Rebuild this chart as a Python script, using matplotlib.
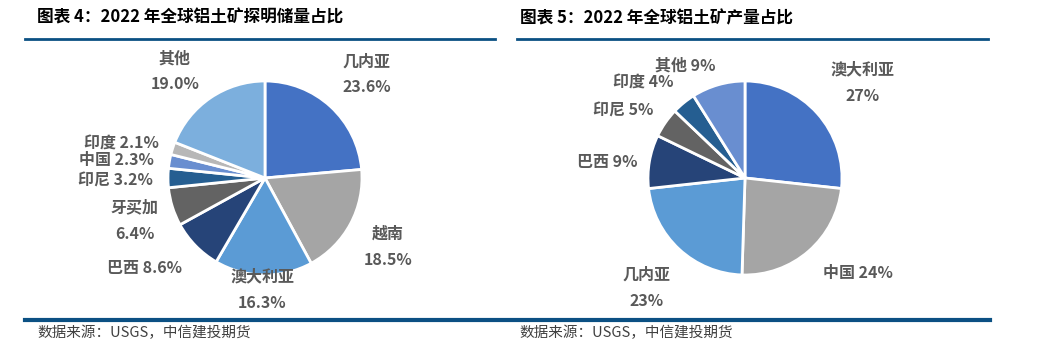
import matplotlib.pyplot as plt
from matplotlib.lines import Line2D

plt.rcParams['font.family'] = ['Noto Sans CJK SC', 'DejaVu Sans']

# 图表4：探明储量占比
reserve_names = ['几内亚', '越南', '澳大利亚', '巴西', '牙买加', '印尼', '中国', '印度', '其他']
reserve_share = [23.6, 18.5, 16.3, 8.6, 6.4, 3.2, 2.3, 2.1, 19.0]

# 图表5：产量占比
output_names = ['澳大利亚', '中国', '几内亚', '巴西', '印尼', '印度', '其他']
output_share = [27, 24, 23, 9, 5, 4, 9]

colors_left = ['#4472C4', '#A5A5A5', '#5B9BD5', '#264478', '#636363',
               '#255E91', '#698ED0', '#B7B7B7', '#7CAFDD']
colors_right = ['#4472C4', '#A5A5A5', '#5B9BD5', '#264478', '#636363',
                '#255E91', '#698ED0']

# 标签位置（以饼图半径为单位），两行标签用 split=True
left_label_pos = [(1.05, 1.07, True), (1.27, -0.71, True), (-0.03, -1.15, True),
                  (-1.24, -0.93, False), (-1.34, -0.44, True), (-1.54, -0.03, False),
                  (-1.53, 0.19, False), (-1.48, 0.36, False), (-0.93, 1.10, True)]
right_label_pos = [(1.21, 0.98, True), (1.16, -0.98, False), (-1.01, -1.13, True),
                   (-1.42, 0.16, False), (-1.26, 0.70, False), (-1.05, 0.98, False),
                   (-0.62, 1.16, False)]

W, H = 1040, 352
fig = plt.figure(figsize=(W / 100, H / 100), dpi=100)

LABEL_COLOR = '#595959'
LINE_COLOR = '#0B5083'


def pie_axes(cx, cy, r):
    return fig.add_axes([(cx - r) / W, 1 - (cy + r) / H, 2 * r / W, 2 * r / H])


def draw_pie(ax, names, vals, colors, label_pos, pct_fmt):
    ax.pie(vals, colors=colors, startangle=90, counterclock=False, radius=1,
           wedgeprops=dict(edgecolor='white', linewidth=2))
    ax.set_xlim(-1, 1)
    ax.set_ylim(-1, 1)
    for name, v, (x, y, split) in zip(names, vals, label_pos):
        pct = pct_fmt.format(v)
        if split:
            ax.text(x, y + 0.135, name, ha='center', va='center', fontsize=11.5,
                    fontweight='bold', color=LABEL_COLOR)
            ax.text(x, y - 0.135, pct, ha='center', va='center', fontsize=11.5,
                    fontweight='bold', color=LABEL_COLOR)
        else:
            ax.text(x, y, name + ' ' + pct, ha='center', va='center', fontsize=11.5,
                    fontweight='bold', color=LABEL_COLOR)


ax1 = pie_axes(265, 178, 97)
draw_pie(ax1, reserve_names, reserve_share, colors_left, left_label_pos, '{:.1f}%')

ax2 = pie_axes(745, 178, 97)
draw_pie(ax2, output_names, output_share, colors_right, right_label_pos, '{}%')

# 标题
fig.text(37 / W, 1 - 18 / H, '图表 4：2022 年全球铝土矿探明储量占比', ha='left', va='center',
         fontsize=12, fontweight='bold', color='black')
fig.text(520 / W, 1 - 18 / H, '图表 5：2022 年全球铝土矿产量占比', ha='left', va='center',
         fontsize=12, fontweight='bold', color='black')

# 分隔线
fig.add_artist(Line2D([25 / W, 495 / W], [1 - 39 / H] * 2, color=LINE_COLOR, lw=2))
fig.add_artist(Line2D([517 / W, 988 / W], [1 - 39 / H] * 2, color=LINE_COLOR, lw=2))
fig.add_artist(Line2D([25 / W, 990 / W], [1 - 320 / H] * 2, color=LINE_COLOR, lw=3))

# 数据来源
for x in (37, 519):
    fig.text(x / W, 1 - 333 / H, '数据来源：USGS，中信建投期货', ha='left', va='center',
             fontsize=10.5, fontstyle='italic', color='#404040')

fig.savefig('out.png', dpi=100)
